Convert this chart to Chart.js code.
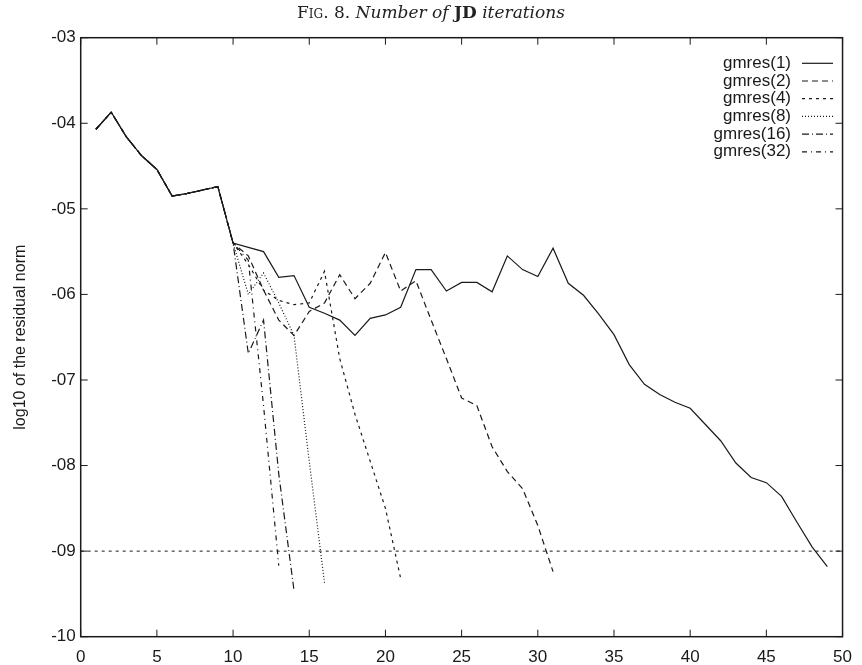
<!DOCTYPE html>
<html>
<head>
<meta charset="utf-8">
<script src="https://cdn.jsdelivr.net/npm/chart.js@4.4.0/dist/chart.umd.min.js"></script>
<style>
  body { margin: 0; background: #fff; }
  #wrap { position: relative; width: 862px; height: 665px; }
  #title {
    position: absolute; left: 0; top: 2px; width: 862px; text-align: center;
    font-family: "DejaVu Serif", "Liberation Serif", serif; font-size: 17px; color: #222;
  }
  #title .sc { font-variant: small-caps; }
  #title i { font-style: italic; }
  #title b { font-weight: bold; font-style: normal; }
</style>
</head>
<body>
<div id="wrap">
  <div id="title"><span class="sc">Fig.</span> 8. <i>Number of</i> <b>JD</b> <i>iterations</i></div>
  <canvas id="chart" width="862" height="665"></canvas>
</div>
<script>
// iterations 1..9 are the same for every run
var commonStart = [-4.07, -3.87, -4.16, -4.38, -4.54, -4.85, -4.82, -4.78, -4.74];

// values from iteration 10 on
var gmres1Tail = [-5.40, -5.45, -5.50, -5.80, -5.78, -6.15, -6.22, -6.30, -6.48, -6.28,
                  -6.24, -6.15, -5.71, -5.71, -5.96, -5.86, -5.86, -5.97, -5.55, -5.71,
                  -5.79, -5.46, -5.87, -6.01, -6.23, -6.47, -6.82, -7.05, -7.17, -7.26,
                  -7.33, -7.52, -7.71, -7.97, -8.14, -8.20, -8.36, -8.66, -8.95, -9.18];
var gmres2Tail = [-5.40, -5.55, -5.95, -6.30, -6.48, -6.20, -6.10, -5.77, -6.05, -5.87,
                  -5.51, -5.96, -5.84, -6.30, -6.75, -7.21, -7.30, -7.78, -8.07, -8.27,
                  -8.70, -9.24];
var gmres4Tail = [-5.40, -5.65, -5.95, -6.07, -6.12, -6.10, -5.73, -6.75, -7.40, -7.95,
                  -8.50, -9.32];
var gmres8Tail = [-5.40, -6.00, -5.75, -6.10, -6.48, -7.95, -9.37];
var gmres16Tail = [-5.40, -6.69, -6.30, -8.10, -9.46];
var gmres32Tail = [-5.40, -5.60, -7.30, -9.17];

var seriesNames = ['gmres(1)', 'gmres(2)', 'gmres(4)', 'gmres(8)', 'gmres(16)', 'gmres(32)'];
var seriesTails = [gmres1Tail, gmres2Tail, gmres4Tail, gmres8Tail, gmres16Tail, gmres32Tail];
var seriesDash = [[], [6, 4], [3, 4], [1, 2], [7, 3, 1, 3], [5, 4, 1, 4]];

var xTicks = [0, 5, 10, 15, 20, 25, 30, 35, 40, 45, 50];
var yTicks = [-3, -4, -5, -6, -7, -8, -9, -10];
var tolerance = -9;

var ink = '#1a1a1a';
var font = '"Liberation Sans", Arial, sans-serif';

function toPoints(tail) {
    var vals = commonStart.concat(tail);
    var pts = [];
    for (let i = 0; i < vals.length; i++) {
        pts.push({x: i + 1, y: vals[i]});
    }
    return pts;
}

var datasets = [];
for (let i = 0; i < seriesNames.length; i++) {
    datasets.push({
        label: seriesNames[i],
        data: toPoints(seriesTails[i]),
        borderColor: ink,
        borderWidth: 1.2,
        borderDash: seriesDash[i],
        pointRadius: 0,
        tension: 0,
        fill: false
    });
}
// horizontal tolerance line
datasets.push({
    label: 'tol',
    data: [{x: 0, y: tolerance}, {x: 50, y: tolerance}],
    borderColor: ink,
    borderWidth: 1,
    borderDash: [3, 4],
    pointRadius: 0,
    fill: false
});

function yLabel(v) {
    var s = String(Math.abs(v));
    if (s.length < 2) s = '0' + s;
    return (v < 0 ? '-' : '') + s;
}

// frame, inward ticks on all four sides, gnuplot style key, y title
var gnuplotLook = {
    id: 'gnuplotLook',
    afterDraw: function(chart) {
        var ctx = chart.ctx;
        var a = chart.chartArea;
        var xs = chart.scales.x, ys = chart.scales.y;
        ctx.save();
        ctx.strokeStyle = ink;
        ctx.lineWidth = 1.5;
        ctx.setLineDash([]);
        ctx.strokeRect(a.left, a.top, a.right - a.left, a.bottom - a.top);

        ctx.lineWidth = 1;
        var len = 7;
        ctx.beginPath();
        xTicks.forEach(function(t) {
            var px = xs.getPixelForValue(t);
            ctx.moveTo(px, a.bottom); ctx.lineTo(px, a.bottom - len);
            ctx.moveTo(px, a.top); ctx.lineTo(px, a.top + len);
        });
        yTicks.forEach(function(t) {
            var py = ys.getPixelForValue(t);
            ctx.moveTo(a.left, py); ctx.lineTo(a.left + len, py);
            ctx.moveTo(a.right, py); ctx.lineTo(a.right - len, py);
        });
        ctx.stroke();

        // key
        ctx.font = '17px ' + font;
        ctx.fillStyle = ink;
        ctx.textAlign = 'right';
        ctx.textBaseline = 'middle';
        for (let i = 0; i < seriesNames.length; i++) {
            var y = 63.3 + i * 17.7;
            ctx.fillText(seriesNames[i], 791, y);
            ctx.beginPath();
            ctx.lineWidth = 1.2;
            ctx.setLineDash(seriesDash[i]);
            ctx.moveTo(802, y); ctx.lineTo(833, y);
            ctx.stroke();
        }

        // y axis title
        ctx.setLineDash([]);
        ctx.translate(21, (a.top + a.bottom) / 2);
        ctx.rotate(-Math.PI / 2);
        ctx.textAlign = 'center';
        ctx.font = '16px ' + font;
        ctx.fillText('log10 of the residual norm', 0, 0);
        ctx.restore();
    }
};

var ctx = document.getElementById('chart').getContext('2d');
new Chart(ctx, {
    type: 'line',
    data: { datasets: datasets },
    options: {
        responsive: false,
        animation: false,
        layout: { padding: { top: 37.7, right: 10, left: 0, bottom: 0 } },
        plugins: { legend: { display: false }, tooltip: { enabled: false } },
        scales: {
            x: {
                type: 'linear', min: 0, max: 50,
                afterBuildTicks: function(s) { s.ticks = xTicks.map(function(v) { return {value: v}; }); },
                afterFit: function(s) { s.height = 28.3; },
                grid: { display: false, drawTicks: false },
                border: { display: false },
                ticks: { color: ink, font: { family: font, size: 17 }, padding: 10, maxRotation: 0 }
            },
            y: {
                type: 'linear', min: -10, max: -3,
                afterBuildTicks: function(s) { s.ticks = yTicks.map(function(v) { return {value: v}; }); },
                afterFit: function(s) { s.width = 80.7; },
                grid: { display: false, drawTicks: false },
                border: { display: false },
                ticks: { color: ink, font: { family: font, size: 17 }, padding: 5, callback: yLabel }
            }
        }
    },
    plugins: [gnuplotLook]
});
</script>
</body>
</html>
